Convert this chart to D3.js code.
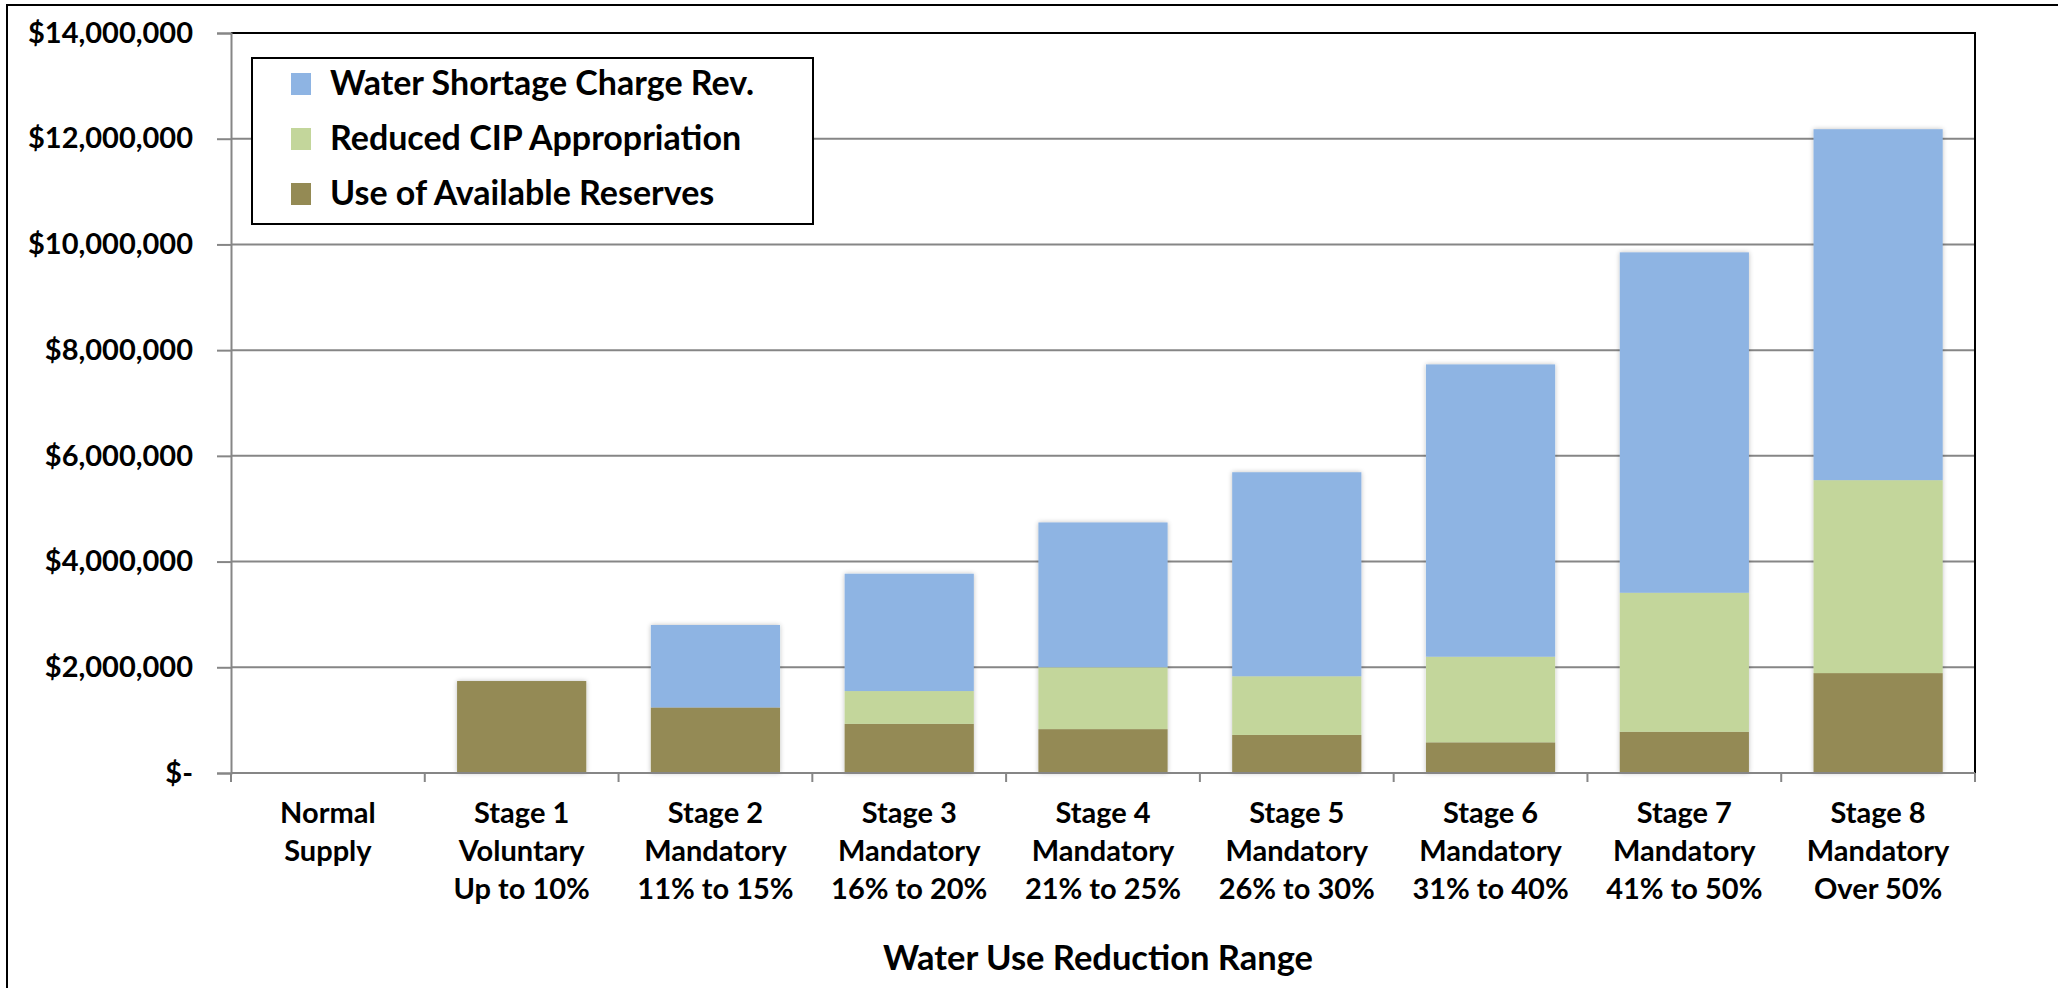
<!DOCTYPE html>
<html>
<head>
<meta charset="utf-8">
<script src="https://cdn.jsdelivr.net/npm/d3@7"></script>
<style>
  html, body { margin: 0; padding: 0; background: #fff; }
  svg { display: block; }
  text { font-family: Lato, "Liberation Sans", sans-serif; font-weight: 700; fill: #000; }
</style>
</head>
<body>
<svg id="chart" width="2058" height="988"></svg>
<script>
const categories = [
  ["Normal", "Supply"],
  ["Stage 1", "Voluntary", "Up to 10%"],
  ["Stage 2", "Mandatory", "11% to 15%"],
  ["Stage 3", "Mandatory", "16% to 20%"],
  ["Stage 4", "Mandatory", "21% to 25%"],
  ["Stage 5", "Mandatory", "26% to 30%"],
  ["Stage 6", "Mandatory", "31% to 40%"],
  ["Stage 7", "Mandatory", "41% to 50%"],
  ["Stage 8", "Mandatory", "Over 50%"]
];
const seriesNames = ["Use of Available Reserves", "Reduced CIP Appropriation", "Water Shortage Charge Rev."];
const reserves = [0, 1740000, 1240000, 930000, 830000, 720000, 580000, 780000, 1890000];
const cip      = [0, 0, 0, 620000, 1170000, 1110000, 1620000, 2630000, 3650000];
const shortage = [0, 0, 1560000, 2220000, 2740000, 3860000, 5530000, 6440000, 6640000];
const yTicks = [0, 2000000, 4000000, 6000000, 8000000, 10000000, 12000000, 14000000];
const colors = ["#948A54", "#C3D69B", "#8EB4E3"];
const xTitle = "Water Use Reduction Range";

const svg = d3.select("#chart");
const L = 231, R = 1975, T = 33, B = 773;

// outer frame
svg.append("path").attr("d", "M7,988 V5 H2058").attr("fill", "none").attr("stroke", "#000").attr("stroke-width", 2);

const defs = svg.append("defs");
const f = defs.append("filter").attr("id", "sh").attr("x", "-10%").attr("y", "-10%").attr("width", "120%").attr("height", "120%");
f.append("feGaussianBlur").attr("in", "SourceAlpha").attr("stdDeviation", 2.5).attr("result", "b");
f.append("feComponentTransfer").attr("in", "b").attr("result", "c")
  .append("feFuncA").attr("type", "linear").attr("slope", 0.25);
const m = f.append("feMerge");
m.append("feMergeNode").attr("in", "c");
m.append("feMergeNode").attr("in", "SourceGraphic");

const x = d3.scaleBand().domain(d3.range(categories.length)).range([L, R]).paddingInner(1/3).paddingOuter(1/6);
const y = d3.scaleLinear().domain([0, 14000000]).range([B, T]);

// gridlines
svg.append("g").selectAll("line").data(yTicks.slice(1, -1)).join("line")
  .attr("x1", L).attr("x2", R).attr("y1", d => y(d)).attr("y2", d => y(d))
  .attr("stroke", "#868686").attr("stroke-width", 2);

// bars
const rows = categories.map((c, i) => ({i, r: reserves[i], c: cip[i], s: shortage[i]}));
const stack = d3.stack().keys(["r", "c", "s"])(rows);
const gBars = svg.append("g").attr("filter", "url(#sh)");
stack.forEach((layer, k) => {
  gBars.append("g").attr("fill", colors[k]).selectAll("rect").data(layer.filter(d => d[1] - d[0] > 0)).join("rect")
    .attr("x", d => x(d.data.i)).attr("width", x.bandwidth())
    .attr("y", d => y(d[1])).attr("height", d => y(d[0]) - y(d[1]));
});

// plot frame: top and right black
svg.append("path").attr("d", `M${L},${T} H${R} V${B}`).attr("fill", "none").attr("stroke", "#000").attr("stroke-width", 2);

// y axis
const fmt = d => d === 0 ? "$-" : "$" + d3.format(",")(d);
const yAxis = d3.axisLeft(y).tickValues(yTicks).tickFormat(fmt).tickSize(14).tickPadding(24);
const gy = svg.append("g").attr("transform", `translate(${L},0)`).call(yAxis);
gy.select(".domain").attr("stroke", "#868686").attr("stroke-width", 2);
gy.selectAll(".tick line").attr("stroke", "#868686").attr("stroke-width", 2);
gy.selectAll(".tick text").style("font-size", "29px").style("font-family", "Lato").style("font-weight", 700).attr("fill", "#000");

// x axis
const bounds = d3.range(categories.length + 1).map(i => L + i * (R - L) / categories.length);
svg.append("line").attr("x1", L).attr("x2", R).attr("y1", B).attr("y2", B).attr("stroke", "#868686").attr("stroke-width", 2);
svg.append("g").selectAll("line").data(bounds).join("line")
  .attr("x1", d => d).attr("x2", d => d).attr("y1", B).attr("y2", B + 9)
  .attr("stroke", "#868686").attr("stroke-width", 2);

const gx = svg.append("g");
categories.forEach((lines, i) => {
  const t = gx.append("text").attr("text-anchor", "middle").style("font-size", "29px")
    .attr("x", x(i) + x.bandwidth() / 2);
  lines.forEach((ln, j) => {
    t.append("tspan").attr("x", x(i) + x.bandwidth() / 2).attr("y", 823 + j * 38).text(ln);
  });
});

svg.append("text").attr("x", 1098).attr("y", 970).attr("text-anchor", "middle").style("font-size", "34.5px").text(xTitle);

// legend
const lg = svg.append("g");
lg.append("rect").attr("x", 252).attr("y", 58).attr("width", 561).attr("height", 166)
  .attr("fill", "#fff").attr("stroke", "#000").attr("stroke-width", 2);
const legendOrder = [2, 1, 0];
legendOrder.forEach((k, j) => {
  const cy = 84 + j * 55;
  lg.append("rect").attr("x", 291).attr("y", cy - 11).attr("width", 20).attr("height", 22).attr("fill", colors[k]);
  lg.append("text").attr("x", 330).attr("y", cy + 11).style("font-size", "34px").text(seriesNames[k]);
});
</script>
</body>
</html>
